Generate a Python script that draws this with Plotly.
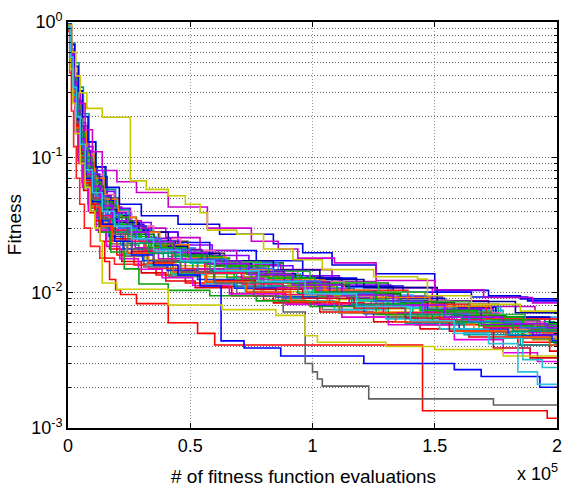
import plotly.graph_objects as go

# ---- data: each run is a list of (evaluations in thousands, best fitness) step points ----
run01 = [(0,0.95),(0.8,0.62),(1.9,0.41),(3.2,0.26),(4.6,0.17),(6.5,0.11),(9,0.075),(12.5,0.052),(17,0.04),(24,0.032),(31,0.028),(45,0.0235),(58,0.0205),(77,0.0172),(96,0.0128),(118,0.0112),(137,0.0101),(165,0.0093),(188,0.0087)]
run02 = [(0,0.9),(1.1,0.55),(2.2,0.33),(3.8,0.2),(5.2,0.12),(7.4,0.08),(10.5,0.055),(15,0.04),(21,0.03),(29,0.024),(38,0.021),(52,0.018),(66,0.0166),(88,0.0131),(104,0.0118),(131,0.0094),(152,0.0082),(176,0.0064)]
run03 = [(0,0.93),(0.9,0.5),(1.7,0.29),(2.9,0.17),(4.1,0.1),(5.8,0.065),(8.2,0.045),(11,0.032),(15.5,0.024),(20,0.019),(27,0.016),(36,0.0135),(48,0.0118),(63,0.0111),(80,0.0088),(97,0.0084),(121,0.0071),(143,0.0058),(168,0.0052),(186,0.0043)]
run04 = [(0,0.88),(1.2,0.58),(2.4,0.36),(3.7,0.23),(5.5,0.15),(7.8,0.1),(11,0.068),(15,0.05),(20,0.038),(26,0.029),(35,0.023),(47,0.0192),(60,0.0171),(79,0.0138),(95,0.0121),(113,0.0098),(135,0.0089),(155,0.0074),(178,0.0058),(196,0.0051)]
run05 = [(0,0.96),(0.7,0.66),(1.6,0.45),(2.8,0.3),(4.3,0.2),(6.1,0.13),(8.6,0.085),(12,0.058),(16,0.043),(22,0.034),(30,0.03),(40,0.0255),(54,0.0205),(69,0.0162),(87,0.0148),(108,0.0121),(126,0.0109),(149,0.0087),(172,0.0079),(191,0.0072)]
run06 = [(0,0.91),(1,0.52),(2,0.3),(3.3,0.18),(4.8,0.11),(6.8,0.07),(9.5,0.047),(13,0.034),(17.5,0.026),(23,0.021),(32,0.0175),(44,0.0158),(57,0.0131),(73,0.0121),(91,0.0102),(110,0.0089),(128,0.0076),(150,0.0071),(171,0.0058),(194,0.0055)]
run07 = [(0,0.9),(1.3,0.6),(2.6,0.4),(4,0.26),(5.7,0.17),(8,0.11),(11.5,0.072),(16,0.05),(21,0.036),(28,0.028),(37,0.024),(49,0.0195),(64,0.0152),(81,0.0133),(99,0.0108),(117,0.0091),(139,0.0084),(158,0.0062),(182,0.0053)]
run08 = [(0,0.94),(0.9,0.57),(1.8,0.35),(3,0.21),(4.4,0.13),(6.3,0.085),(8.8,0.058),(12.2,0.041),(16.5,0.031),(22.5,0.025),(31,0.0212),(41,0.0178),(53,0.0143),(68,0.0131),(83,0.0112),(102,0.0095),(124,0.0082),(146,0.0074),(163,0.0061),(185,0.0057),(198,0.0052)]
run09 = [(0,0.89),(1.1,0.49),(2.1,0.28),(3.4,0.16),(4.9,0.098),(6.9,0.063),(9.8,0.042),(13.5,0.03),(18,0.023),(24,0.0185),(33,0.0162),(43,0.0138),(56,0.0121),(72,0.0107),(89,0.0092),(106,0.0081),(127,0.0072),(147,0.0059),(166,0.0051),(189,0.0046)]
run10 = [(0,0.95),(1,0.63),(2.1,0.42),(3.6,0.27),(5.1,0.18),(7.2,0.12),(10.2,0.08),(14.2,0.056),(19,0.042),(25.5,0.033),(34,0.028),(45,0.0225),(59,0.0188),(74,0.0158),(92,0.0133),(111,0.0114),(132,0.0094),(153,0.0076),(174,0.0066),(195,0.0058)]
run11 = [(0,0.92),(0.8,0.54),(1.7,0.32),(2.9,0.19),(4.2,0.115),(6,0.074),(8.4,0.05),(11.8,0.036),(16,0.028),(21.5,0.0225),(29,0.0195),(39,0.0172),(51,0.0149),(65,0.0129),(82,0.0112),(100,0.0098),(119,0.0087),(141,0.0071),(161,0.0064),(183,0.0061),(199,0.0058)]
run12 = [(0,0.9),(1.2,0.56),(2.3,0.34),(3.9,0.21),(5.4,0.13),(7.6,0.086),(10.8,0.059),(14.8,0.043),(20,0.033),(27,0.026),(36,0.0215),(52,0.0182),(61,0.0165),(86,0.0131),(97,0.0109),(132,0.0096),(141,0.0078),(177,0.0066)]
run13 = [(0,0.87),(0.9,0.46),(1.8,0.26),(3.1,0.15),(4.5,0.09),(6.4,0.057),(9,0.039),(12.5,0.028),(17,0.021),(22,0.017),(30,0.014),(40,0.0122),(52,0.0109),(67,0.0095),(84,0.0084),(103,0.0072),(125,0.0061),(144,0.0054),(164,0.0047),(184,0.0041),(197,0.0037)]
run14 = [(0,0.93),(1.1,0.59),(2.2,0.38),(3.5,0.24),(5,0.155),(7.1,0.1),(9.9,0.068),(13.8,0.048),(18.5,0.037),(25,0.029),(33,0.024),(44,0.0198),(58,0.0164),(75,0.0138),(93,0.0128),(112,0.0111),(133,0.0091),(154,0.0078),(175,0.0066),(197,0.006)]
run15 = [(0,0.9),(1,0.5),(2,0.29),(3.2,0.17),(4.7,0.104),(6.6,0.067),(9.3,0.045),(12.8,0.032),(17.3,0.024),(23,0.0195),(31,0.0163),(42,0.0138),(68,0.0125),(79,0.0094),(118,0.0088),(131,0.0067),(170,0.0062),(184,0.0049)]
run16 = [(0,0.94),(0.8,0.6),(1.7,0.39),(3,0.25),(4.4,0.16),(6.2,0.105),(8.7,0.07),(12.1,0.049),(16.3,0.037),(22,0.029),(29.5,0.0235),(39,0.0196),(50,0.0165),(64,0.014),(80,0.0119),(98,0.0102),(116,0.0088),(136,0.0077),(159,0.0062),(179,0.0051),(199,0.0047)]
run17 = [(0,0.9),(1.2,0.53),(2.5,0.31),(3.9,0.185),(5.6,0.112),(7.9,0.072),(11.2,0.048),(15.4,0.035),(20.5,0.027),(27.5,0.0215),(37,0.0178),(48,0.015),(71,0.0128),(80,0.0109),(106,0.0094),(115,0.0081),(146,0.0073),(157,0.0061),(188,0.0051)]
run18 = [(0,0.92),(1,0.58),(2,0.37),(3.3,0.23),(4.7,0.145),(6.7,0.095),(9.4,0.064),(13.1,0.045),(17.8,0.034),(24,0.027),(32,0.022),(43,0.0185),(56,0.0156),(72,0.0131),(90,0.0111),(109,0.0095),(129,0.0082),(151,0.0066),(170,0.0056),(190,0.0045)]
run19 = [(0,0.88),(0.9,0.47),(1.9,0.27),(3.2,0.16),(4.6,0.096),(6.5,0.062),(9.1,0.042),(12.6,0.03),(17.1,0.023),(23,0.0186),(31,0.0155),(41,0.0132),(54,0.0114),(69,0.0099),(86,0.0086),(104,0.0075),(122,0.0066),(142,0.0058),(162,0.0051),(181,0.0046),(199,0.0042)]
run20 = [(0,0.95),(1.1,0.62),(2.2,0.4),(3.6,0.26),(5.2,0.17),(7.3,0.112),(10.3,0.075),(14.4,0.053),(19.3,0.04),(26,0.031),(35,0.025),(46,0.0205),(60,0.017),(76,0.0143),(94,0.0121),(113,0.0103),(134,0.0088),(156,0.0071),(177,0.0061),(194,0.0053)]
run21 = [(0,0.91),(1,0.53),(2.1,0.31),(3.4,0.18),(4.9,0.108),(6.9,0.069),(9.7,0.046),(13.4,0.033),(18.2,0.025),(24.5,0.02),(33,0.0167),(44,0.0142),(57,0.0122),(73,0.0105),(91,0.0091),(108,0.0079),(127,0.0069),(148,0.006),(168,0.0053),(188,0.0047)]
run22 = [(0,0.89),(1.2,0.55),(2.4,0.33),(3.8,0.2),(5.4,0.125),(7.6,0.081),(10.7,0.055),(14.7,0.04),(19.7,0.031),(26.5,0.025),(35.5,0.0205),(46.5,0.0174),(60,0.0148),(77,0.0125),(95,0.0107),(114,0.0092),(135,0.008),(155,0.007),(176,0.0062),(193,0.0057)]
run23 = [(0,0.93),(0.9,0.52),(1.9,0.3),(3.1,0.18),(4.5,0.11),(6.4,0.071),(9,0.048),(12.4,0.034),(16.8,0.026),(22.5,0.021),(30.5,0.0172),(40.5,0.0146),(53,0.0125),(68,0.0108),(85,0.0093),(102,0.008),(121,0.007),(140,0.0061),(160,0.0054),(180,0.0048),(198,0.0044)]
run24 = [(0,0.9),(1.1,0.57),(2.3,0.36),(3.7,0.22),(5.3,0.14),(7.5,0.091),(10.6,0.061),(14.6,0.044),(19.6,0.034),(26.3,0.027),(35.2,0.0222),(46.2,0.0186),(60.3,0.0158),(77.5,0.0134),(95.5,0.0114),(115,0.0098),(136,0.0085),(158,0.0068),(179,0.0055),(197,0.0043)]
run25 = [(0,0.85),(0.7,0.42),(1.4,0.22),(2.3,0.12),(3.4,0.07),(4.8,0.045),(6.7,0.03),(9.2,0.022),(13,0.018),(19,0.0162),(33,0.0151),(52,0.0139),(78,0.0118),(101,0.0104),(139,0.0082),(171,0.0064)]
run26 = [(0,0.97),(1.4,0.7),(2.9,0.5),(4.5,0.33),(6.3,0.21),(8.6,0.13),(11.4,0.085),(15,0.058),(19.5,0.041),(25,0.031),(32,0.024),(41,0.0185),(53,0.0142),(69,0.0112),(88,0.0091),(111,0.0071),(138,0.0059),(162,0.0049),(185,0.0041)]
run27 = [(0,0.9),(1,0.55),(2,0.34),(3.5,0.2),(5,0.125),(7,0.082),(10,0.056),(14,0.041),(20,0.033),(29,0.028),(41,0.022),(49,0.0195),(62,0.0172),(84,0.0147),(103,0.0125),(121,0.0109),(151,0.0086),(183,0.0071)]
run28 = [(0,0.92),(1.3,0.56),(2.6,0.33),(4.1,0.19),(5.9,0.115),(8.3,0.074),(11.6,0.05),(16.2,0.037),(22,0.029),(30,0.0238),(43,0.0205),(55,0.0181),(66,0.0168),(79,0.0144),(99,0.0119),(127,0.0101),(146,0.0086),(164,0.0069),(187,0.0056)]
run29 = [(0,0.88),(0.8,0.48),(1.7,0.27),(2.8,0.155),(4.1,0.094),(5.9,0.06),(8.3,0.04),(11.5,0.029),(15.8,0.022),(21.2,0.0178),(28.8,0.0149),(38.5,0.0129),(51,0.0113),(66,0.0098),(89,0.0082),(112,0.0066),(131,0.0058),(158,0.0045),(178,0.0036),(192,0.0031)]
run30 = [(0,0.93),(1.2,0.6),(2.4,0.39),(3.9,0.25),(5.5,0.16),(7.7,0.105),(10.9,0.07),(15.2,0.049),(20.6,0.036),(27.8,0.028),(37.5,0.0226),(49.5,0.0183),(64.5,0.0149),(83,0.0124),(105,0.0104),(124,0.0092),(148,0.0079),(173,0.0059),(194,0.005)]
run31 = [(0,0.91),(1,0.51),(2,0.29),(3.3,0.17),(4.8,0.103),(6.8,0.066),(9.6,0.044),(13.2,0.031),(17.9,0.024),(24,0.0192),(32.5,0.0159),(43,0.0136),(56.5,0.0117),(72.5,0.0101),(91,0.0087),(109,0.0075),(130,0.0064),(152,0.0054),(172,0.0046),(186,0.0032),(194,0.0028)]
run32 = [(0,0.95),(0.9,0.61),(1.9,0.4),(3.2,0.26),(4.7,0.17),(6.6,0.112),(9.3,0.075),(12.9,0.052),(17.6,0.039),(23.7,0.031),(31.8,0.0252),(42,0.0208),(54.7,0.0172),(70.4,0.0143),(88.5,0.012),(107,0.0102),(126,0.0087),(147,0.0075),(169,0.0058),(190,0.0049)]
run33 = [(0,0.9),(1.1,0.52),(2.2,0.3),(3.6,0.175),(5.2,0.106),(7.3,0.068),(10.3,0.045),(14.3,0.032),(19.4,0.025),(26.1,0.0202),(35,0.0168),(46,0.0143),(59.7,0.0123),(76.6,0.0106),(96,0.0091),(117,0.0077),(138,0.0065),(156,0.0052),(174,0.0039),(189,0.0033)]
run34 = [(0,0.94),(1,0.59),(2,0.38),(3.4,0.24),(4.9,0.152),(6.9,0.099),(9.7,0.066),(13.5,0.047),(18.3,0.036),(24.6,0.028),(33.1,0.023),(43.6,0.019),(56.8,0.0162),(73,0.0137),(91.3,0.0116),(110,0.0099),(130,0.0086),(151,0.0072),(173,0.0063),(192,0.0056)]
run35 = [(0,0.9),(1,0.5),(2,0.28),(3.3,0.16),(4.8,0.095),(6.7,0.06),(9.3,0.04),(12.8,0.028),(17.5,0.02),(23,0.015),(29,0.0116),(41,0.0104),(58,0.0095),(77,0.0087),(99,0.0079),(126,0.0069),(149,0.0061),(168,0.0057),(190,0.0054)]
run36 = [(0,0.91),(1.1,0.57),(2.2,0.35),(3.5,0.21),(5,0.13),(7,0.085),(9.8,0.058),(13.6,0.042),(18.6,0.032),(25,0.026),(34,0.0215),(48,0.0185),(63,0.0158),(82,0.0128),(101,0.0101),(126,0.0083),(144,0.0074),(167,0.0066),(186,0.0059)]
run37 = [(0,0.92),(0.9,0.53),(1.9,0.32),(3.2,0.19),(4.6,0.115),(6.5,0.075),(9.2,0.05),(12.7,0.037),(17.3,0.029),(23.5,0.024),(31.5,0.0205),(42.5,0.0172),(56,0.0141),(71,0.0116),(88,0.0097),(107,0.0083),(129,0.0071),(152,0.0063),(170,0.0055),(191,0.0052)]
run38 = [(0,0.9),(1.2,0.54),(2.4,0.32),(3.9,0.19),(5.6,0.118),(7.9,0.077),(11.1,0.052),(15.3,0.038),(20.8,0.03),(28,0.025),(38,0.0208),(50,0.0176),(65,0.0151),(84,0.0122),(103,0.0099),(125,0.0086),(145,0.0069),(164,0.0061),(185,0.0055)]
run39 = [(0,0.94),(1,0.58),(2,0.36),(3.3,0.22),(4.8,0.137),(6.8,0.09),(9.6,0.061),(13.3,0.044),(18.1,0.034),(24.4,0.028),(32.8,0.0238),(43.3,0.0198),(57,0.0164),(74,0.0136),(92,0.0114),(112,0.0096),(133,0.0081),(154,0.0066),(178,0.0059),(196,0.0055)]
run40 = [(0,0.9),(1,0.5),(2,0.3),(3.4,0.18),(4.9,0.11),(6.9,0.071),(9.7,0.048),(13.4,0.035),(18.2,0.028),(24.5,0.0232),(33,0.0196),(44,0.0168),(58,0.0145),(75,0.0119),(94,0.0099),(116,0.0082),(138,0.0069),(161,0.006),(182,0.0052)]
run41 = [(0,0.88),(1,0.49),(2,0.28),(3.3,0.165),(4.8,0.1),(6.8,0.064),(9.6,0.043),(13.3,0.031),(18.1,0.024),(24.3,0.0196),(32.6,0.0165),(43,0.0142),(56.5,0.012),(73,0.0101),(91,0.0086),(111,0.0071),(134,0.0061),(158,0.0052),(179,0.0047),(197,0.0041)]
run_blue_high = [(0,0.96),(1.3,0.68),(2.7,0.47),(4.2,0.31),(5.9,0.2),(8.2,0.13),(11.3,0.085),(15.5,0.06),(21,0.045),(30,0.037),(45,0.032),(62,0.027),(84,0.023),(96,0.0197),(108,0.016),(126,0.0138),(150,0.0104),(172,0.0095),(185,0.009)]
run_magenta_high = [(0,0.93),(1.5,0.6),(3,0.4),(5,0.25),(7,0.16),(10,0.11),(14,0.08),(20,0.066),(28,0.055),(41,0.043),(57,0.03),(75,0.024),(86,0.021),(94,0.018),(109,0.0166),(126,0.0123),(150,0.0105),(170,0.0092),(190,0.0084)]
run_yellow_high = [(0,0.95),(1.5,0.6),(3.2,0.4),(5,0.3),(7.7,0.23),(14,0.198),(25.5,0.067),(32,0.058),(41,0.052),(48,0.045),(54,0.039),(57,0.029),(69,0.027),(80,0.021),(92,0.0175),(104,0.0148),(125,0.0131),(143,0.0126),(147,0.0095),(165,0.0082),(185,0.0073)]
run_red_low = [(0,0.9),(1,0.5),(2,0.3),(3.5,0.17),(5,0.1),(7,0.065),(9,0.045),(11,0.034),(13,0.024),(15,0.017),(17,0.0125),(19.5,0.0105),(21.5,0.0097),(28,0.0083),(41,0.006),(53,0.005),(60,0.0041),(145,0.00134),(196,0.00118)]
run_blue_low = [(0,0.9),(1.1,0.55),(2.2,0.33),(3.6,0.19),(5.2,0.11),(7.3,0.07),(10,0.047),(14,0.032),(19,0.024),(26,0.019),(35,0.016),(45,0.0135),(54,0.0112),(62.6,0.0044),(72,0.0039),(87,0.0034),(121,0.003),(158,0.0027),(169,0.0024),(193,0.002)]
run_gray_low = [(0,0.88),(1,0.5),(2,0.3),(3.4,0.18),(5,0.11),(7,0.072),(10,0.049),(14,0.035),(19,0.027),(26,0.021),(35,0.0172),(46,0.0142),(60,0.0118),(76,0.0094),(88,0.0072),(97,0.003),(100,0.0026),(102,0.0023),(104,0.00204),(123,0.00164),(174,0.00148)]
run_yellow_low = [(0,0.9),(1,0.45),(2,0.25),(3,0.15),(5,0.09),(7,0.06),(9,0.04),(11,0.03),(13,0.024),(14,0.0118),(20,0.0106),(41,0.0081),(63,0.0075),(85,0.0068),(97,0.0048),(102,0.0043),(130,0.004),(150,0.0038),(178,0.0034)]
run_cyan_low = [(0,0.92),(1,0.55),(2.1,0.33),(3.5,0.2),(5,0.125),(7.1,0.081),(10,0.055),(14,0.04),(19,0.031),(26,0.025),(35,0.0205),(46,0.0172),(60,0.0145),(78,0.0121),(97,0.0098),(118,0.0079),(140,0.0062),(158,0.005),(172,0.0042),(184,0.0026),(192,0.0021)]

runs = [run01, run02, run03, run04, run05, run06, run07, run08, run09, run10,
        run11, run12, run13, run14, run15, run16, run17, run18, run19, run20,
        run21, run22, run23, run24, run25, run26, run27, run28, run29, run30,
        run31, run32, run33, run34, run35, run36, run37, run38, run39, run40, run41,
        run_blue_high, run_magenta_high, run_yellow_high, run_red_low, run_blue_low,
        run_gray_low, run_yellow_low, run_cyan_low]

run_colors = ["#0000FF", "#008000", "#FF0000", "#00BFBF", "#BF00BF", "#BFBF00", "#404040", "#FF3399", "#FF8000", "#8000FF",
              "#00A050", "#3399FF", "#E00000", "#0000C0", "#22AA22", "#00CCCC", "#CC00CC", "#999900", "#707070", "#FF66AA",
              "#FF9933", "#9933CC", "#0033FF", "#007A00", "#FF2020", "#009999", "#000099", "#33B333", "#E000E0", "#FF7700",
              "#20C0D0", "#7700DD", "#D00020", "#228B22", "#10A010", "#00B000", "#FF0066", "#3366FF", "#AA00FF", "#009966",
              "#FF4500", "#0000E0", "#CC00CC", "#C8C800", "#FF0000", "#0000FF", "#606060", "#CCCC00", "#30C0E0"]

x_tick_vals = [0, 50000, 100000, 150000, 200000]
x_tick_text = ["0", "0.5", "1", "1.5", "2"]
y_tick_vals = [1e-3, 1e-2, 1e-1, 1]
y_tick_text = ["10<sup>-3</sup>", "10<sup>-2</sup>", "10<sup>-1</sup>", "10<sup>0</sup>"]

fig = go.Figure()
for run, col in zip(runs, run_colors):
    xs = [p[0] * 1000 for p in run] + [200000]
    ys = [p[1] for p in run] + [run[-1][1]]
    fig.add_trace(go.Scatter(x=xs, y=ys, mode="lines", line=dict(color=col, width=1.6, shape="hv"),
                             showlegend=False, hoverinfo="skip"))

family = "Liberation Sans, Arial, sans-serif"
tick_font = dict(family=family, size=18, color="black")
title_font = dict(family=family, size=19, color="black")
grid_col = "#666666"
grid_dash = "1px,2px"
fig.update_layout(
    width=568, height=487,
    margin=dict(l=68, r=6, t=22, b=59),
    paper_bgcolor="white", plot_bgcolor="white",
    font=tick_font,
    xaxis=dict(range=[0, 200000], tickvals=x_tick_vals, ticktext=x_tick_text,
               showgrid=True, gridcolor="#999999", griddash=grid_dash, gridwidth=1,
               ticks="inside", ticklen=5, tickcolor="black",
               showline=True, linecolor="black", linewidth=1.8, mirror="ticks",
               zeroline=False, tickfont=tick_font),
    yaxis=dict(type="log", range=[-3, 0], tickvals=y_tick_vals, ticktext=y_tick_text,
               showgrid=True, gridcolor=grid_col, griddash=grid_dash, gridwidth=1,
               minor=dict(dtick="D1", showgrid=True, gridcolor=grid_col, griddash=grid_dash,
                          gridwidth=1, ticks="inside", ticklen=3, tickcolor="black"),
               ticks="inside", ticklen=5, tickcolor="black",
               showline=True, linecolor="black", linewidth=1.8, mirror="ticks",
               zeroline=False, tickfont=tick_font),
    annotations=[
        dict(text="# of fitness function evaluations", xref="paper", yref="paper",
             x=0.482, y=-0.12, xanchor="center", yanchor="middle", showarrow=False, font=title_font),
        dict(text="x 10<sup>5</sup>", xref="paper", yref="paper",
             x=1.006, y=-0.11, xanchor="right", yanchor="middle", showarrow=False, font=tick_font),
        dict(text="Fitness", xref="paper", yref="paper", textangle=-90,
             x=-0.11, y=0.5, xanchor="center", yanchor="middle", showarrow=False, font=title_font),
    ],
)

fig.write_html("out.html")
